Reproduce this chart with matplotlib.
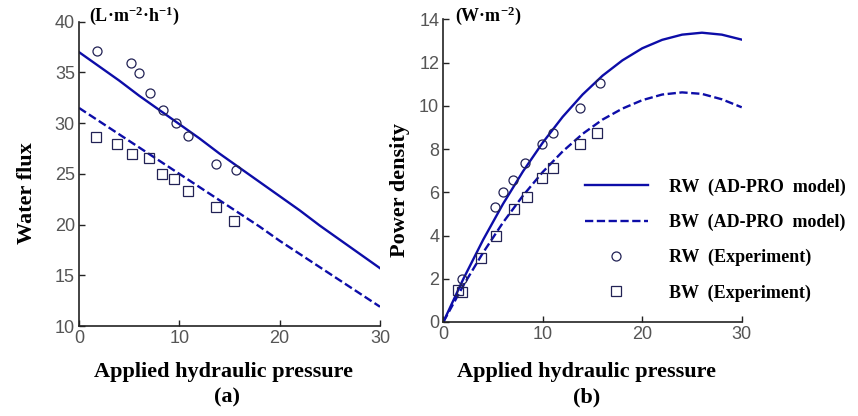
import matplotlib
matplotlib.use("Agg")
import matplotlib.pyplot as plt

plt.rcParams['mathtext.fontset'] = 'custom'
plt.rcParams['mathtext.rm'] = 'Liberation Serif:bold'
plt.rcParams['mathtext.bf'] = 'Liberation Serif:bold'
plt.rcParams['mathtext.it'] = 'Liberation Serif:bold'

# Model curves
model_p = [0, 2, 4, 6, 8, 10, 12, 14, 16, 18, 20, 22, 24, 26, 28, 30]
flux_rw_model = [37.0, 35.6, 34.2, 32.7, 31.3, 29.9, 28.5, 27.0, 25.6, 24.2, 22.8, 21.4, 19.9, 18.5, 17.1, 15.7]
flux_bw_model = [31.5, 30.2, 28.9, 27.6, 26.3, 25.0, 23.7, 22.4, 21.1, 19.8, 18.4, 17.1, 15.8, 14.5, 13.2, 11.9]
power_rw_model = [0, 1.98, 3.80, 5.46, 6.96, 8.30, 9.49, 10.52, 11.39, 12.10, 12.66, 13.05, 13.29, 13.38, 13.29, 13.06]
power_bw_model = [0, 1.68, 3.21, 4.60, 5.84, 6.94, 7.89, 8.70, 9.36, 9.87, 10.26, 10.52, 10.62, 10.55, 10.30, 9.93]

# Experimental points
p_rw = [1.8, 5.2, 6.0, 7.1, 8.4, 9.7, 10.9, 13.7, 15.6]
flux_rw = [37.1, 35.9, 34.9, 33.0, 31.3, 30.0, 28.7, 26.0, 25.4]
p_bw = [1.7, 3.8, 5.3, 7.0, 8.3, 9.5, 10.9, 13.7, 15.4]
flux_bw = [28.6, 27.9, 27.0, 26.6, 25.0, 24.5, 23.3, 21.7, 20.4]

pp_rw = [1.9, 5.2, 6.0, 7.0, 8.2, 9.9, 11.0, 13.7, 15.75]
power_rw = [2.0, 5.3, 6.0, 6.55, 7.35, 8.25, 8.75, 9.9, 11.07]
pp_bw = [1.45, 1.9, 3.8, 5.3, 7.1, 8.45, 9.9, 11.0, 13.7, 15.4]
power_bw = [1.5, 1.4, 2.96, 3.96, 5.22, 5.78, 6.65, 7.11, 8.24, 8.73]

line_c = '#0d0da8'
mk_c = '#222255'
tick_c = '#555555'
serif = 'Liberation Serif'

fig = plt.figure(figsize=(8.58, 4.16), dpi=100)
ax1 = fig.add_axes([0.0921, 0.2163, 0.3508, 0.7315])
ax2 = fig.add_axes([0.5167, 0.2260, 0.3478, 0.7276])

ax1.plot(model_p, flux_rw_model, color=line_c, lw=1.7)
ax1.plot(model_p, flux_bw_model, color=line_c, lw=1.7, linestyle=(0, (3.5, 1.5)))
ax1.plot(p_rw, flux_rw, 'o', mfc='none', mec=mk_c, ms=6.5, mew=0.9)
ax1.plot(p_bw, flux_bw, 's', mfc='none', mec=mk_c, ms=7.5, mew=0.9)
ax1.set_xlim(0, 30)
ax1.set_ylim(10, 40)
ax1.set_xticks([0, 10, 20, 30])
ax1.set_yticks([10, 15, 20, 25, 30, 35, 40])

l1, = ax2.plot(model_p, power_rw_model, color=line_c, lw=1.7)
l2, = ax2.plot(model_p, power_bw_model, color=line_c, lw=1.7, linestyle=(0, (3.5, 1.5)))
l3, = ax2.plot(pp_rw, power_rw, 'o', mfc='none', mec=mk_c, ms=6.5, mew=0.9)
l4, = ax2.plot(pp_bw, power_bw, 's', mfc='none', mec=mk_c, ms=7.5, mew=0.9)
ax2.set_xlim(0, 30)
ax2.set_ylim(0, 14)
ax2.set_xticks([0, 10, 20, 30])
ax2.set_yticks([0, 2, 4, 6, 8, 10, 12, 14])

for ax in (ax1, ax2):
    for s in ('top', 'right'):
        ax.spines[s].set_visible(False)
    for s in ('left', 'bottom'):
        ax.spines[s].set_color('#222222')
        ax.spines[s].set_linewidth(1.2)
    ax.tick_params(direction='in', length=4, width=1, colors='#222222',
                   labelcolor=tick_c, labelsize=13, pad=3)
    for lab in ax.get_xticklabels() + ax.get_yticklabels():
        lab.set_family('Liberation Sans')
    ax.set_xlabel('Applied hydraulic pressure', fontsize=16, fontweight='bold', family=serif)

ax1.xaxis.set_label_coords(0.48, -0.118)
ax2.xaxis.set_label_coords(0.48, -0.132)
ax1.set_ylabel('Water flux', fontsize=16, fontweight='bold', family=serif)
ax2.set_ylabel('Power density', fontsize=16, fontweight='bold', family=serif)
ax1.yaxis.set_label_coords(-0.139, 0.437)
ax2.yaxis.set_label_coords(-0.112, 0.436)

fig.text(227 / 858, 1 - 397 / 416, '(a)', fontsize=16, fontweight='bold', family=serif,
         ha='center', va='center')
fig.text(587 / 858, 1 - 397 / 416, '(b)', fontsize=16, fontweight='bold', family=serif,
         ha='center', va='center')
fig.text(89 / 858, 1 - 16 / 416, '(L·m$^{-2}$·h$^{-1}$)', fontsize=13, fontweight='bold',
         family=serif, ha='left', va='center')
fig.text(455 / 858, 1 - 16 / 416, '(W·m$^{-2}$)', fontsize=13, fontweight='bold',
         family=serif, ha='left', va='center')

leg = ax2.legend([l1, l2, l3, l4],
                 ['RW  (AD-PRO  model)', 'BW  (AD-PRO  model)',
                  'RW  (Experiment)', 'BW  (Experiment)'],
                 loc='upper left', bbox_to_anchor=(0.431, 0.516), frameon=False,
                 handlelength=3.5, handletextpad=1.2, labelspacing=1.0,
                 borderaxespad=0.3,
                 prop={'family': serif, 'weight': 'bold', 'size': 13})

fig.savefig('out.png', dpi=100)
